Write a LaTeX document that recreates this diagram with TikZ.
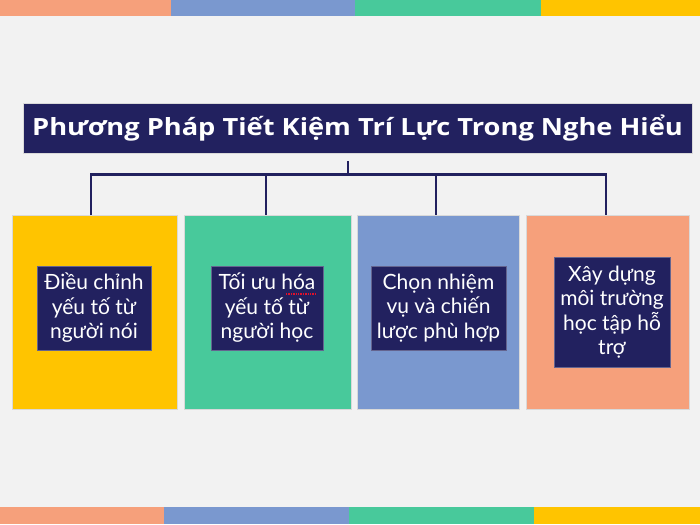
\documentclass[tikz,border=0pt]{standalone}
\usepackage{fontspec}
\setmainfont{Open Sans}
\newfontfamily\titlefont[FakeStretch=1.15]{Open Sans}
\newfontfamily\bodyfont{Lato}
\definecolor{bgc}{HTML}{F2F2F2}
\definecolor{navy}{HTML}{22215F}
\definecolor{cyel}{HTML}{FFC400}
\definecolor{cgrn}{HTML}{48C99B}
\definecolor{cblu}{HTML}{7A98CF}
\definecolor{corg}{HTML}{F6A07B}
\definecolor{spell}{HTML}{E0102B}
\begin{document}
\begin{tikzpicture}[x=1pt,y=-1pt,
  outerbox/.style={draw=white!85!black,line width=0.6pt,inner sep=0pt,outer sep=0pt},
  innerbox/.style={fill=navy,draw=navy!70!white,line width=0.6pt,text=white,inner sep=0pt,outer sep=0pt,
    align=center,font=\bodyfont\fontsize{21}{24.5}\selectfont},
  link/.style={draw=navy,line width=2.6pt}]
\useasboundingbox (0,0) rectangle (700,524);
\fill[bgc] (0,0) rectangle (700,524);
% top bars
\fill[corg] (0,0) rectangle (171,16.5);
\fill[cblu] (171,0) rectangle (355,16.5);
\fill[cgrn] (355,0) rectangle (541,16.5);
\fill[cyel] (541,0) rectangle (700,16.5);
% bottom bars
\fill[corg] (0,507) rectangle (164,524);
\fill[cblu] (164,507) rectangle (349,524);
\fill[cgrn] (349,507) rectangle (534,524);
\fill[cyel] (534,507) rectangle (700,524);
% title
\node[fill=navy,draw=white!85!black,line width=0.8pt,minimum width=669pt,minimum height=50pt,inner sep=0pt,
  text=white,font=\titlefont\fontsize{23.7}{28}\selectfont\bfseries] (title) at (357.5,128)
  {Phương Pháp Tiết Kiệm Trí Lực Trong Nghe Hiểu};
% outer boxes
\node[outerbox,fill=cyel,minimum width=165pt,minimum height=194pt] (b1) at (94.5,312) {};
\node[outerbox,fill=cgrn,minimum width=167pt,minimum height=194pt] (b2) at (267.5,312) {};
\node[outerbox,fill=cblu,minimum width=162pt,minimum height=194pt] (b3) at (438,312) {};
\node[outerbox,fill=corg,minimum width=163pt,minimum height=194pt] (b4) at (607.5,312) {};
% inner boxes
\node[innerbox,minimum width=114pt,minimum height=84pt] (t1) at (94,308) {Điều chỉnh\\yếu tố từ\\người nói};
\node[innerbox,minimum width=112pt,minimum height=84pt] (t2) at (267,308) {Tối ưu hóa\\yếu tố từ\\người học};
\node[innerbox,minimum width=135pt,minimum height=84pt] (t3) at (438.5,308) {Chọn nhiệm\\vụ và chiến\\lược phù hợp};
\node[innerbox,minimum width=116pt,minimum height=110pt] (t4) at (612,312) {Xây dựng\\môi trường\\học tập hỗ\\trợ};
% spell-check mark
\draw[spell,line width=1.2pt,dash pattern=on 1.3pt off 1.1pt] (286,294) -- (315,294);
% connectors
\coordinate (hub) at (348,174.5);
\coordinate (d1) at (91,174.5);
\coordinate (d2) at (266,174.5);
\coordinate (d3) at (436,174.5);
\coordinate (d4) at (606,174.5);
\draw[link] ([yshift=-8pt]title.south -| hub) -- (hub);
\draw[link,line join=miter] (d1 |- b1.north) -- (d1) -- (d4) -- (d4 |- b4.north);
\draw[link] (d2) -- (d2 |- b2.north);
\draw[link] (d3) -- (d3 |- b3.north);
\end{tikzpicture}
\end{document}
